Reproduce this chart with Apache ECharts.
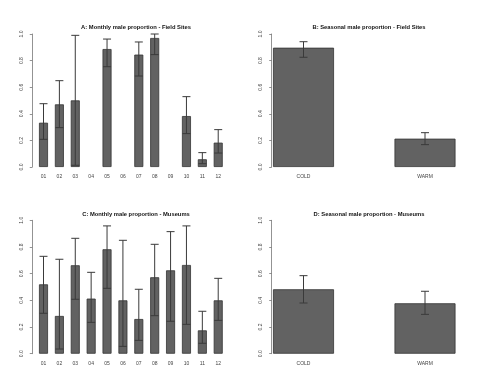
<!DOCTYPE html>
<html>
<head>
<meta charset="utf-8">
<script src="https://cdn.jsdelivr.net/npm/echarts@6/dist/echarts.min.js"></script>
<style>
  html, body { margin: 0; padding: 0; background: #fff; }
  #chart { width: 478px; height: 389px; }
</style>
</head>
<body>
<div id="chart"></div>
<script>
// categories
const months = ['01', '02', '03', '04', '05', '06', '07', '08', '09', '10', '11', '12'];
const seasons = ['COLD', 'WARM'];

// A: monthly field sites (null = no data)
const fieldMonthly = [0.333, 0.471, 0.501, null, 0.887, null, 0.845, 0.970, null, 0.383, 0.058, 0.183];
const fieldMonthlyLow = [0.208, 0.296, 0.013, null, 0.754, null, 0.684, 0.845, null, 0.251, 0.025, 0.105];
const fieldMonthlyHigh = [0.476, 0.649, 0.990, null, 0.962, null, 0.940, 1.000, null, 0.529, 0.108, 0.281];

// B: seasonal field sites
const fieldSeasonal = [0.897, 0.213];
const fieldSeasonalLow = [0.825, 0.168];
const fieldSeasonalHigh = [0.942, 0.258];

// C: monthly museums
const museumMonthly = [0.520, 0.283, 0.663, 0.413, 0.783, 0.400, 0.260, 0.573, 0.625, 0.665, 0.175, 0.400];
const museumMonthlyLow = [0.303, 0.035, 0.408, 0.235, 0.490, 0.055, 0.100, 0.285, 0.243, 0.220, 0.078, 0.250];
const museumMonthlyHigh = [0.730, 0.708, 0.865, 0.610, 0.958, 0.850, 0.483, 0.820, 0.915, 0.958, 0.318, 0.565];

// D: seasonal museums
const museumSeasonal = [0.483, 0.378];
const museumSeasonalLow = [0.380, 0.295];
const museumSeasonalHigh = [0.585, 0.468];

const titles = [
  'A: Monthly male proportion - Field Sites',
  'B: Seasonal male proportion - Field Sites',
  'C: Monthly male proportion - Museums',
  'D: Seasonal male proportion - Museums'
];

const chart = echarts.init(document.getElementById('chart'), null, { renderer: 'canvas' });

// panel layout
const grids = [
  { left: 35.56, top: 34, width: 190.6, height: 133 },
  { left: 303.5, top: 34, width: 121.5, height: 133 },
  { left: 35.56, top: 220.3, width: 190.6, height: 133.4 },
  { left: 303.5, top: 220.3, width: 121.5, height: 133.4 }
];
const yOffsets = [3.3, 31.8, 3.3, 31.8];
const titleCenters = [[131, 22.7], [364, 22.7], [131, 209.3], [364, 209.3]];

function errorSeries(idx, low, high, cap) {
  return {
    type: 'custom',
    xAxisIndex: idx,
    yAxisIndex: idx,
    clip: false,
    z: 5,
    data: low.map((l, i) => (l == null ? null : [i, l, high[i]])).filter(d => d),
    renderItem: function (params, api) {
      const lo = api.coord([api.value(0), api.value(1)]);
      const hi = api.coord([api.value(0), api.value(2)]);
      const style = { stroke: '#3a3a3a', lineWidth: 1 };
      return {
        type: 'group',
        children: [
          { type: 'line', shape: { x1: lo[0], y1: lo[1], x2: hi[0], y2: hi[1] }, style: style },
          { type: 'line', shape: { x1: lo[0] - cap, y1: lo[1], x2: lo[0] + cap, y2: lo[1] }, style: style },
          { type: 'line', shape: { x1: hi[0] - cap, y1: hi[1], x2: hi[0] + cap, y2: hi[1] }, style: style }
        ]
      };
    }
  };
}

function barSeries(idx, values, width) {
  return {
    type: 'bar',
    xAxisIndex: idx,
    yAxisIndex: idx,
    barWidth: width,
    clip: false,
    data: values,
    itemStyle: { color: '#626262', borderColor: '#333', borderWidth: 0.8 },
    silent: true
  };
}

const option = {
  animation: false,
  backgroundColor: '#fff',
  title: titles.map((t, i) => ({
    text: t,
    left: titleCenters[i][0],
    top: titleCenters[i][1],
    textAlign: 'center',
    textVerticalAlign: 'middle',
    textStyle: { fontFamily: 'Liberation Sans', fontSize: 5.8, fontWeight: 'bold', color: '#111' }
  })),
  grid: grids.map(g => Object.assign({ containLabel: false }, g)),
  xAxis: [0, 1, 2, 3].map(i => ({
    type: 'category',
    gridIndex: i,
    data: i % 2 === 0 ? months : seasons,
    boundaryGap: i % 2 === 0,
    axisLine: { show: false },
    axisTick: { show: false },
    axisLabel: { color: '#444', fontSize: 5, fontFamily: 'Liberation Sans', margin: 7.5, interval: 0 }
  })),
  yAxis: [0, 1, 2, 3].map(i => ({
    type: 'value',
    gridIndex: i,
    min: 0,
    max: 1,
    interval: 0.2,
    offset: yOffsets[i],
    splitLine: { show: false },
    axisLine: { show: true, lineStyle: { color: '#777', width: 0.8 } },
    axisTick: { show: true, length: 2.5, lineStyle: { color: '#777', width: 0.8 } },
    axisLabel: {
      rotate: 90,
      color: '#444',
      fontSize: 5,
      fontFamily: 'Liberation Sans',
      margin: 8.5,
      formatter: v => v.toFixed(1)
    }
  })),
  series: [
    barSeries(0, fieldMonthly, 9),
    errorSeries(0, fieldMonthlyLow, fieldMonthlyHigh, 4),
    barSeries(1, fieldSeasonal, 61),
    errorSeries(1, fieldSeasonalLow, fieldSeasonalHigh, 4),
    barSeries(2, museumMonthly, 9),
    errorSeries(2, museumMonthlyLow, museumMonthlyHigh, 4),
    barSeries(3, museumSeasonal, 61),
    errorSeries(3, museumSeasonalLow, museumSeasonalHigh, 4)
  ]
};

chart.setOption(option);

window.addEventListener('resize', function () {
  chart.resize();
});
</script>
</body>
</html>
